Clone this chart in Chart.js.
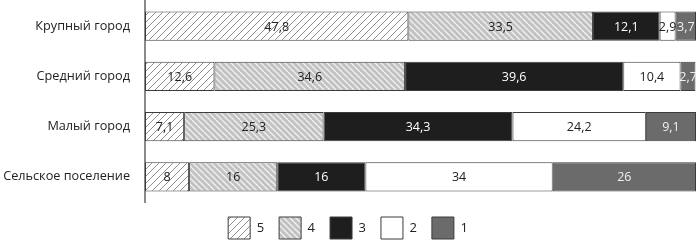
<!DOCTYPE html>
<html>
<head>
<meta charset="utf-8">
<script src="https://cdn.jsdelivr.net/npm/chart.js@4/dist/chart.umd.min.js"></script>
<style>
html,body{margin:0;padding:0;background:#fff;}
#wrap{width:696px;height:241px;position:relative;}
</style>
</head>
<body>
<div id="wrap"><canvas id="c"></canvas></div>
<script>
const categories = ["Крупный город", "Средний город", "Малый город", "Сельское поселение"];
const seriesNames = ["5", "4", "3", "2", "1"];
const s5 = [47.8, 12.6, 7.1, 8];
const s4 = [33.5, 34.6, 25.3, 16];
const s3 = [12.1, 39.6, 34.3, 16];
const s2 = [2.9, 10.4, 24.2, 34];
const s1 = [3.7, 2.7, 9.1, 26];

function hatch(bg, line, size, dir, lw) {
  const c = document.createElement('canvas');
  c.width = size; c.height = size;
  const g = c.getContext('2d');
  g.fillStyle = bg; g.fillRect(0, 0, size, size);
  g.strokeStyle = line; g.lineWidth = lw;
  g.beginPath();
  if (dir === '/') {
    for (const o of [-size, 0, size]) { g.moveTo(o, size); g.lineTo(o + size, 0); }
  } else {
    for (const o of [-size, 0, size]) { g.moveTo(o, 0); g.lineTo(o + size, size); }
  }
  g.stroke();
  return g.createPattern(c, 'repeat');
}
const p5 = hatch('#ffffff', '#8f8f8f', 7, '/', 1);
const p4 = hatch('#c2c2c2', '#f2f2f2', 6, '\\', 1.3);

const fills = [p5, p4, '#1e1e1e', '#ffffff', '#6b6b6b'];
const textCols = ['#222', '#222', '#fff', '#222', '#f0f0f0'];
const values = [s5, s4, s3, s2, s1];

const datasets = values.map((v, i) => ({
  label: seriesNames[i],
  data: v,
  backgroundColor: fills[i],
  borderColor: '#3c3c3c',
  borderWidth: 1,
  borderSkipped: false,
  barPercentage: 0.58,
  categoryPercentage: 1
}));

const labelPlugin = {
  id: 'vals',
  afterDatasetsDraw(chart) {
    const ctx = chart.ctx;
    ctx.save();
    ctx.font = '12.5px "Open Sans"';
    ctx.textAlign = 'center';
    ctx.textBaseline = 'middle';
    chart.data.datasets.forEach((ds, i) => {
      const meta = chart.getDatasetMeta(i);
      meta.data.forEach((el, j) => {
        const txt = String(ds.data[j]).replace('.', ',');
        ctx.fillStyle = textCols[i];
        ctx.fillText(txt, (el.x + el.base) / 2, el.y + 1);
      });
    });
    ctx.restore();
  }
};

new Chart(document.getElementById('c'), {
  type: 'bar',
  data: { labels: categories, datasets },
  plugins: [labelPlugin],
  options: {
    indexAxis: 'y',
    responsive: true,
    maintainAspectRatio: false,
    animation: false,
    layout: { padding: { top: 1, right: 0, bottom: -8, left: 0 } },
    plugins: {
      tooltip: { enabled: false },
      legend: {
        position: 'bottom',
        labels: {
          boxWidth: 22,
          boxHeight: 22,
          padding: 15,
          color: '#222',
          font: { family: '"Open Sans"', size: 13 }
        }
      }
    },
    scales: {
      x: { stacked: true, display: false, min: 0, max: 100 },
      y: {
        stacked: true,
        afterFit(s) { s.width = 145; s.paddingTop = 0; s.paddingBottom = 0; },
        grid: { display: false, drawTicks: false },
        border: { display: true, color: '#8a8a8a', width: 2 },
        ticks: { padding: 15, color: '#222', font: { family: '"Open Sans"', size: 12.7 } }
      }
    }
  }
});
</script>
</body>
</html>
